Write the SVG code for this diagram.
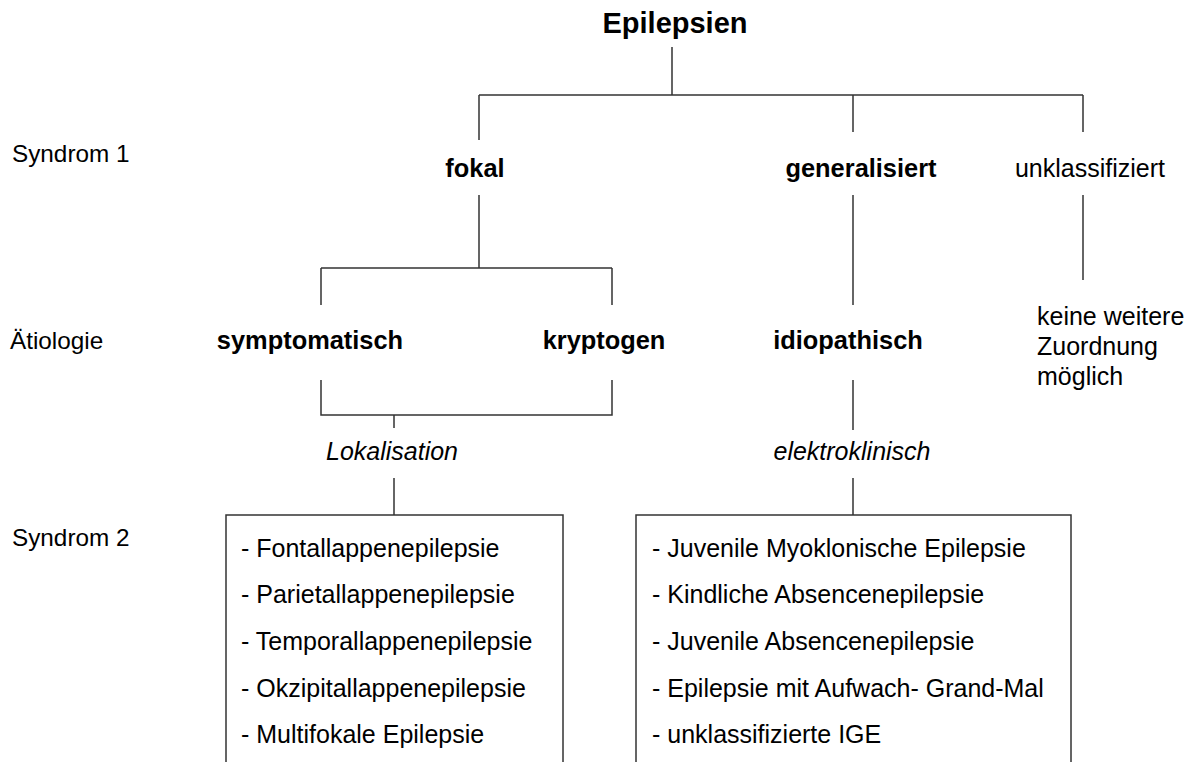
<svg xmlns="http://www.w3.org/2000/svg" width="1192" height="762" viewBox="0 0 1192 762">
<style>
text{font-family:"Liberation Sans",Arial,sans-serif;font-size:25px;fill:#000}
.b{font-weight:bold;font-size:25.4px}
.t{font-size:29px;font-weight:bold}
.i{font-style:italic}
.c{text-anchor:middle}
.lb{font-size:24.3px}
.ln{stroke:#333;stroke-width:1.5;fill:none}
.box{stroke:#333;stroke-width:1.5;fill:#fff}
</style>
<rect width="1192" height="762" fill="#fff"/>
<g id="connectors" class="ln">
<path d="M672 47V95M479 95H1083M479 95V140M853 95V132M1083 95V132"/>
<path d="M479 195V268M321 268H612M321 268V305M612 268V305"/>
<path d="M853 195V305"/>
<path d="M1083 195V280"/>
<path d="M321 380V415H612V380M394 415V428"/>
<path d="M394 478V515"/>
<path d="M853 380V430M853 478V515"/>
</g>
<g id="labels">
<text class="lb" x="12" y="162">Syndrom 1</text>
<text class="lb" x="10" y="349">Ätiologie</text>
<text class="lb" x="12" y="546">Syndrom 2</text>
</g>
<g id="n-epilepsien"><text class="t c" x="675" y="33">Epilepsien</text></g>
<g id="n-fokal"><text class="b c" x="475" y="177">fokal</text></g>
<g id="n-generalisiert"><text class="b c" x="861" y="177">generalisiert</text></g>
<g id="n-unklassifiziert"><text class="c" x="1090" y="177">unklassifiziert</text></g>
<g id="n-symptomatisch"><text class="b c" x="310" y="349">symptomatisch</text></g>
<g id="n-kryptogen"><text class="b c" x="604" y="349">kryptogen</text></g>
<g id="n-idiopathisch"><text class="b c" x="848" y="349">idiopathisch</text></g>
<g id="n-keine"><text x="1037" y="325">keine weitere</text><text x="1037" y="355">Zuordnung</text><text x="1037" y="385">möglich</text></g>
<g id="n-lokalisation"><text class="i c" x="392" y="460">Lokalisation</text></g>
<g id="n-elektroklinisch"><text class="i c" x="852" y="460">elektroklinisch</text></g>
<g id="n-fokal-list">
<rect class="box" x="226" y="515" width="337" height="260"/>
<text x="241" y="557">- Fontallappenepilepsie</text>
<text x="241" y="603">- Parietallappenepilepsie</text>
<text x="241" y="650">- Temporallappenepilepsie</text>
<text x="241" y="697">- Okzipitallappenepilepsie</text>
<text x="241" y="743">- Multifokale Epilepsie</text>
</g>
<g id="n-ige-list">
<rect class="box" x="636" y="515" width="435" height="260"/>
<text x="652" y="557">- Juvenile Myoklonische Epilepsie</text>
<text x="652" y="603">- Kindliche Absencenepilepsie</text>
<text x="652" y="650">- Juvenile Absencenepilepsie</text>
<text x="652" y="697">- Epilepsie mit Aufwach- Grand-Mal</text>
<text x="652" y="743">- unklassifizierte IGE</text>
</g>
</svg>
